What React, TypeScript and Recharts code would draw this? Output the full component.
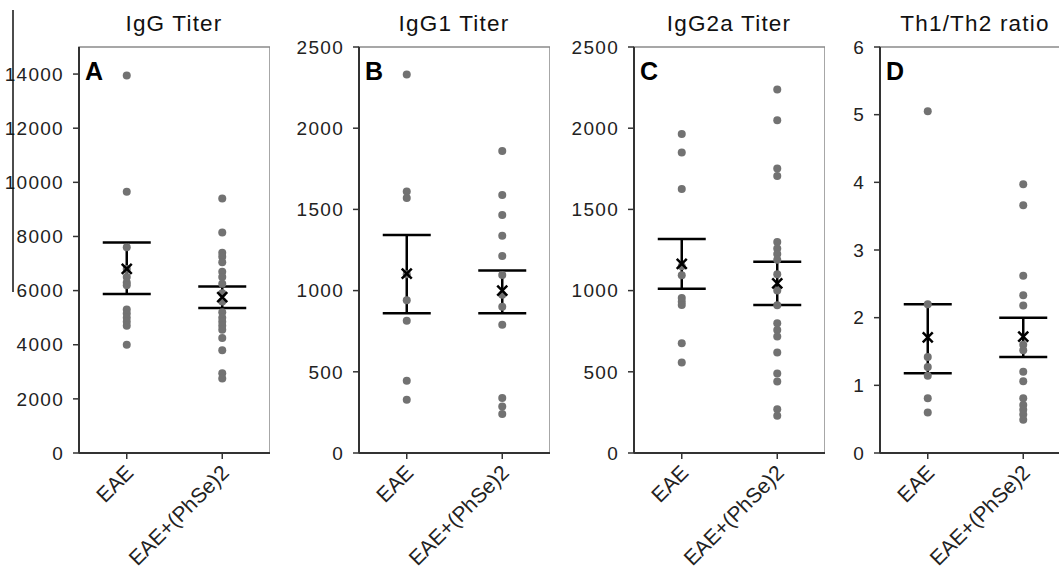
import React from 'react';
import { ComposedChart, Scatter, XAxis, YAxis, ErrorBar, ReferenceArea } from 'recharts';

const groups = ['EAE', 'EAE+(PhSe)2'];

// IgG titer
const iggEae = [13950, 9650, 7600, 6800, 6500, 6300, 6200, 5300, 5150, 5000, 4850, 4700, 4000];
const iggPhse = [9400, 8150, 7400, 7250, 7050, 6700, 6500, 6250, 5900, 5600, 5200, 5000, 4850, 4700, 4550, 4250, 3800, 2950, 2750];
const iggMean = [6800, 5760];
const iggLow = [5870, 5360];
const iggHigh = [7780, 6150];
const iggTicks = [0, 2000, 4000, 6000, 8000, 10000, 12000, 14000];

// IgG1 titer
const igg1Eae = [2330, 1610, 1570, 1100, 940, 815, 445, 328];
const igg1Phse = [1860, 1588, 1465, 1338, 1213, 1096, 975, 900, 789, 338, 287, 240];
const igg1Mean = [1105, 1000];
const igg1Low = [861, 861];
const igg1High = [1342, 1123];

// IgG2a titer
const igg2aEae = [1965, 1850, 1625, 1150, 1095, 955, 932, 912, 676, 557];
const igg2aPhse = [2238, 2049, 1752, 1705, 1300, 1260, 1225, 1190, 1100, 1000, 910, 799, 758, 717, 619, 490, 440, 270, 230];
const igg2aMean = [1164, 1045];
const igg2aLow = [1012, 912];
const igg2aHigh = [1318, 1178];
const titerTicks = [0, 500, 1000, 1500, 2000, 2500];

// Th1/Th2 ratio
const ratioEae = [5.05, 2.2, 1.42, 1.27, 1.14, 0.81, 0.6];
const ratioPhse = [3.97, 3.66, 2.62, 2.33, 2.18, 1.6, 1.52, 1.2, 1.06, 0.81, 0.71, 0.64, 0.57, 0.49];
const ratioMean = [1.71, 1.72];
const ratioLow = [1.18, 1.42];
const ratioHigh = [2.2, 2.0];
const ratioTicks = [0, 1, 2, 3, 4, 5, 6];

const FONT = '"Liberation Sans", Arial, sans-serif';
const DOT = '#727272';
const AXIS = '#333';

const toPoints = (vals: number[], gi: number) => vals.map(v => ({ x: gi + 0.5, y: v }));

const CategoryTick = (props: any) => {
  const { x, y, payload } = props;
  const label = groups[Math.round(payload.value - 0.5)];
  const ax = x + 8;
  const ay = y + 13;
  return (
    <text x={ax} y={ay} textAnchor="end" transform={`rotate(-45, ${ax}, ${ay})`} fontSize={21} fill="#222" fontFamily={FONT}>
      {label}
    </text>
  );
};

const Dot = (props: any) => <circle cx={props.cx} cy={props.cy} r={4} fill={DOT} />;

const Cross = (props: any) => {
  const { cx, cy } = props;
  const s = 5;
  return (
    <g stroke="#000" strokeWidth={2.5}>
      <line x1={cx - s} y1={cy - s} x2={cx + s} y2={cy + s} />
      <line x1={cx - s} y1={cy + s} x2={cx + s} y2={cy - s} />
    </g>
  );
};

interface PanelProps {
  left: number;
  max: number;
  ticks: number[];
  a: number[];
  b: number[];
  mean: number[];
  low: number[];
  high: number[];
}

const Y_W = 79;
const PLOT_W = 191;

const Panel: React.FC<PanelProps> = ({ left, max, ticks, a, b, mean, low, high }) => {
  const meanData = mean.map((m, i) => ({ x: i + 0.5, y: m, err: [m - low[i], high[i] - m] }));
  return (
    <div style={{ position: 'absolute', left, top: 0 }}>
      <ComposedChart width={Y_W + PLOT_W} height={574} margin={{ top: 47, right: 0, left: 0, bottom: 21 }}>
        <ReferenceArea x1={0} x2={2} y1={0} y2={max} fill="none" stroke="#8a8a8a" strokeWidth={1.5} ifOverflow="visible" />
        <XAxis
          type="number"
          dataKey="x"
          domain={[0, 2]}
          ticks={[0.5, 1.5]}
          interval={0}
          height={100}
          tickSize={6}
          tick={<CategoryTick />}
          axisLine={{ stroke: AXIS, strokeWidth: 1.8 }}
          tickLine={{ stroke: AXIS, strokeWidth: 1.5 }}
          allowDataOverflow
        />
        <YAxis
          type="number"
          dataKey="y"
          domain={[0, max]}
          ticks={ticks}
          interval={0}
          width={Y_W}
          tickSize={6}
          tickMargin={9}
          tick={{ fontSize: 19, fill: '#222', fontFamily: FONT, letterSpacing: 1.3 }}
          axisLine={{ stroke: AXIS, strokeWidth: 2 }}
          tickLine={{ stroke: AXIS, strokeWidth: 1.5 }}
          allowDataOverflow
        />
        <Scatter data={toPoints(a, 0)} shape={<Dot />} isAnimationActive={false} />
        <Scatter data={toPoints(b, 1)} shape={<Dot />} isAnimationActive={false} />
        <Scatter data={meanData} shape={<Cross />} isAnimationActive={false}>
          <ErrorBar dataKey="err" direction="y" width={24} stroke="#000" strokeWidth={2.5} isAnimationActive={false} />
        </Scatter>
      </ComposedChart>
    </div>
  );
};

const titles = ['IgG Titer', 'IgG1 Titer', 'IgG2a Titer', 'Th1/Th2 ratio'];
const letters = ['A', 'B', 'C', 'D'];
const plotLefts = [79, 359, 634, 880];

export default function App() {
  return (
    <div style={{ position: 'absolute', left: 0, top: 0, width: 1059, height: 574, overflow: 'hidden', background: '#fff' }}>
      <Panel left={plotLefts[0] - Y_W} max={15000} ticks={iggTicks} a={iggEae} b={iggPhse} mean={iggMean} low={iggLow} high={iggHigh} />
      <Panel left={plotLefts[1] - Y_W} max={2500} ticks={titerTicks} a={igg1Eae} b={igg1Phse} mean={igg1Mean} low={igg1Low} high={igg1High} />
      <Panel left={plotLefts[2] - Y_W} max={2500} ticks={titerTicks} a={igg2aEae} b={igg2aPhse} mean={igg2aMean} low={igg2aLow} high={igg2aHigh} />
      <Panel left={plotLefts[3] - Y_W} max={6} ticks={ratioTicks} a={ratioEae} b={ratioPhse} mean={ratioMean} low={ratioLow} high={ratioHigh} />
      <svg width={1059} height={574} style={{ position: 'absolute', left: 0, top: 0, pointerEvents: 'none' }}>
        <line x1={13} y1={10} x2={13} y2={292} stroke="#111" strokeWidth={1.5} />
        {titles.map((t, i) => (
          <text key={t} x={plotLefts[i] + 95} y={31} textAnchor="middle" fontSize={22.5} letterSpacing={1.2} fill="#111" fontFamily={FONT}>
            {t}
          </text>
        ))}
        {letters.map((l, i) => (
          <text key={l} x={plotLefts[i] + 6} y={80} fontSize={25} fontWeight="bold" fill="#000" fontFamily={FONT}>
            {l}
          </text>
        ))}
      </svg>
    </div>
  );
}
